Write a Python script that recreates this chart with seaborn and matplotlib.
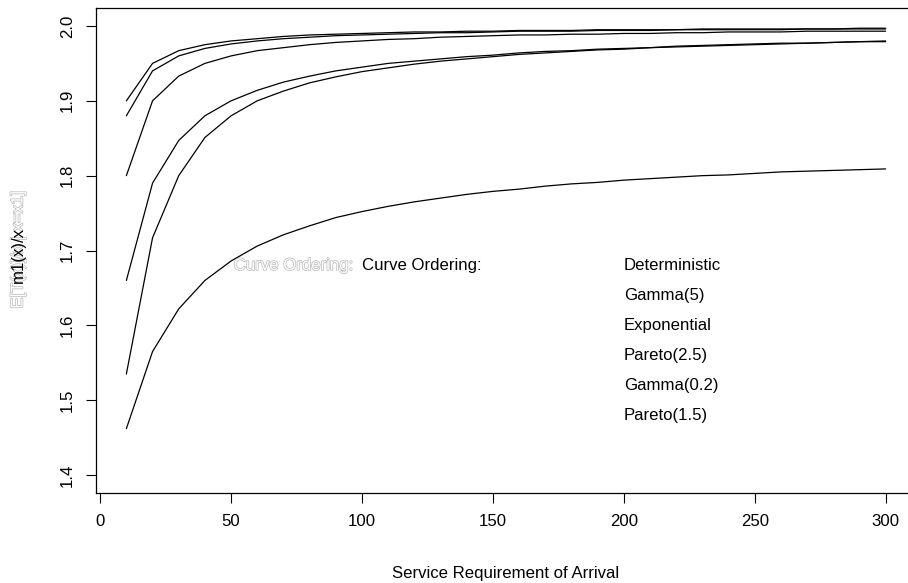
import matplotlib
matplotlib.use("Agg")
import matplotlib.pyplot as plt
import matplotlib.patheffects as pe
import pandas as pd
import seaborn as sns

arrival = list(range(10, 301, 10))

deterministic = [1.900, 1.950, 1.967, 1.975, 1.980, 1.983, 1.986, 1.988, 1.989, 1.990,
                 1.991, 1.992, 1.992, 1.993, 1.993, 1.994, 1.994, 1.994, 1.995, 1.995,
                 1.995, 1.995, 1.996, 1.996, 1.996, 1.996, 1.996, 1.996, 1.997, 1.997]
gamma5 = [1.880, 1.940, 1.960, 1.970, 1.976, 1.980, 1.983, 1.985, 1.987, 1.988,
          1.989, 1.990, 1.991, 1.991, 1.992, 1.993, 1.993, 1.993, 1.994, 1.994,
          1.994, 1.995, 1.995, 1.995, 1.995, 1.995, 1.996, 1.996, 1.996, 1.996]
exponential = [1.800, 1.900, 1.933, 1.950, 1.960, 1.967, 1.971, 1.975, 1.978, 1.980,
               1.982, 1.983, 1.985, 1.986, 1.987, 1.988, 1.988, 1.989, 1.989, 1.990,
               1.990, 1.991, 1.991, 1.992, 1.992, 1.992, 1.993, 1.993, 1.993, 1.993]
pareto25 = [1.660, 1.790, 1.847, 1.880, 1.900, 1.914, 1.925, 1.933, 1.940, 1.945,
            1.950, 1.953, 1.956, 1.959, 1.961, 1.964, 1.966, 1.967, 1.969, 1.970,
            1.971, 1.973, 1.974, 1.975, 1.976, 1.977, 1.977, 1.978, 1.979, 1.980]
gamma02 = [1.535, 1.717, 1.800, 1.851, 1.880, 1.900, 1.913, 1.924, 1.932, 1.939,
           1.944, 1.949, 1.953, 1.956, 1.959, 1.962, 1.964, 1.966, 1.968, 1.969,
           1.971, 1.972, 1.973, 1.974, 1.975, 1.976, 1.977, 1.978, 1.979, 1.979]
pareto15 = [1.462, 1.565, 1.622, 1.660, 1.686, 1.706, 1.721, 1.733, 1.744, 1.752,
            1.759, 1.765, 1.770, 1.775, 1.779, 1.782, 1.786, 1.789, 1.791, 1.794,
            1.796, 1.798, 1.800, 1.801, 1.803, 1.805, 1.806, 1.807, 1.808, 1.809]

curve_names = ["Deterministic", "Gamma(5)", "Exponential",
               "Pareto(2.5)", "Gamma(0.2)", "Pareto(1.5)"]
curves = [deterministic, gamma5, exponential, pareto25, gamma02, pareto15]

x_ticks = [0, 50, 100, 150, 200, 250, 300]
y_ticks = [1.4, 1.5, 1.6, 1.7, 1.8, 1.9, 2.0]

df = pd.concat(
    [pd.DataFrame({"x": arrival, "ratio": vals, "dist": name})
     for name, vals in zip(curve_names, curves)],
    ignore_index=True,
)

sns.set_theme(style="ticks")
plt.rcParams["font.family"] = ["Liberation Sans", "DejaVu Sans"]
plt.rcParams["text.color"] = "black"
fs = 12.1

fig = plt.figure(figsize=(9.08, 5.83), dpi=100)
ax = fig.add_axes([96 / 908, 90 / 583, 820 / 908, 485 / 583])

sns.lineplot(data=df, x="x", y="ratio", units="dist", estimator=None,
             color="black", linewidth=0.9, ax=ax, legend=False)

ax.set_xlim(-1.6, 311.6)
ax.set_ylim(1.376, 2.024)
ax.set_xticks(x_ticks)
ax.set_xticklabels([str(t) for t in x_ticks], fontsize=fs)
ax.set_yticks(y_ticks)
ax.set_yticklabels([f"{t:.1f}" for t in y_ticks], fontsize=fs,
                   rotation=90, va="center")
ax.tick_params(direction="out", length=7, width=0.8, color="black",
               labelcolor="black", pad=8)
for s in ax.spines.values():
    s.set_color("black")
    s.set_linewidth(0.9)
ax.spines["right"].set_visible(False)

ax.set_xlabel("Service Requirement of Arrival", fontsize=fs, labelpad=27,
              color="black")
ax.set_ylabel("")

# overlaid (ghost) y-label
hollow = [pe.withStroke(linewidth=1.0, foreground="#b8b8b8")]
fig.text(18 / 908, 1 - 250 / 583, "E[T(x)]/x | x=x1]", rotation=90,
         ha="center", va="center", fontsize=fs, color="white", path_effects=hollow)
fig.text(18 / 908, 1 - 255 / 583, "m1(x)/x", rotation=90,
         ha="center", va="center", fontsize=fs, color="black")

ax.text(51, 1.68, "Curve Ordering:", fontsize=fs, va="center",
        color="white", path_effects=hollow)
ax.text(100, 1.68, "Curve Ordering:", fontsize=fs, va="center", color="black")

label_y = [1.68, 1.64, 1.60, 1.56, 1.52, 1.48]
for name, yv in zip(curve_names, label_y):
    ax.text(200, yv, name, fontsize=fs, va="center", color="black")

fig.savefig("out.png", dpi=100)
